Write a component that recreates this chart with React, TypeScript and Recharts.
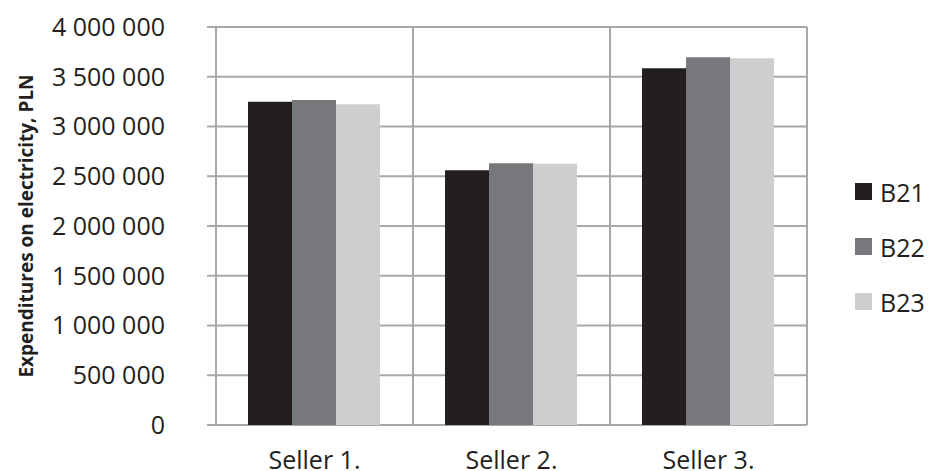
import React from 'react';
import { BarChart, Bar, XAxis, YAxis, CartesianGrid, Legend } from 'recharts';

const sellers = ['Seller 1.', 'Seller 2.', 'Seller 3.'];
const b21 = [3250000, 2560000, 3585000];
const b22 = [3266000, 2630000, 3695000];
const b23 = [3223000, 2625000, 3685000];
const yTicks = [0, 500000, 1000000, 1500000, 2000000, 2500000, 3000000, 3500000, 4000000];
const boundaryTicks = [0, 1, 2, 3];

const SERIES = [
  { key: 'B21', values: b21, color: '#231f20' },
  { key: 'B22', values: b22, color: '#77787b' },
  { key: 'B23', values: b23, color: '#cdced0' },
];

const GRID = '#a6a8ab';
const FONT = '"Open Sans", "Noto Sans", sans-serif';

const data = sellers.map((name, i) => {
  const row: Record<string, string | number> = { name };
  SERIES.forEach(s => { row[s.key] = s.values[i]; });
  return row;
});

const formatPln = (v: number) => String(v).replace(/\B(?=(\d{3})+(?!\d))/g, ' ');

function LegendBox({ payload }: any) {
  return (
    <div style={{ fontFamily: FONT }}>
      {(payload || []).map((p: any) => (
        <div key={p.value} style={{ display: 'flex', alignItems: 'center', height: 55 }}>
          <div style={{ width: 17, height: 17, background: p.color, marginRight: 8 }} />
          <span style={{ fontSize: 25, color: '#231f20' }}>{p.value}</span>
        </div>
      ))}
    </div>
  );
}

export default function App() {
  return (
    <div style={{ position: 'absolute', left: 0, top: 0, background: '#fff' }}>
      <BarChart
        width={928}
        height={471}
        data={data}
        margin={{ top: 27, right: 48, bottom: 0, left: 116 }}
        barCategoryGap={32}
        barGap={0}
      >
        <CartesianGrid xAxisId="num" stroke={GRID} strokeWidth={2} />
        <XAxis
          xAxisId="num"
          dataKey="boundary"
          type="number"
          domain={[0, 3]}
          ticks={boundaryTicks}
          allowDataOverflow
          height={0}
          tickSize={8}
          stroke={GRID}
          strokeWidth={2}
          tickFormatter={() => ''}
        />
        <XAxis
          xAxisId="cat"
          dataKey="name"
          height={46}
          axisLine={false}
          tickLine={false}
          tickSize={0}
          tickMargin={26}
          tick={{ fill: '#231f20', fontSize: 25, fontFamily: FONT }}
        />
        <YAxis
          width={100}
          domain={[0, 4000000]}
          ticks={yTicks}
          tickSize={9}
          tickMargin={42}
          stroke={GRID}
          strokeWidth={2}
          tickFormatter={formatPln}
          tick={{ fill: '#231f20', fontSize: 25, fontFamily: FONT }}
          label={{
            value: 'Expenditures on electricity, PLN',
            angle: -90,
            position: 'insideLeft',
            offset: -90,
            style: { fill: '#231f20', fontSize: 19, fontWeight: 700, fontFamily: FONT, textAnchor: 'middle' },
          }}
        />
        <Legend
          layout="vertical"
          align="right"
          verticalAlign="top"
          content={<LegendBox />}
          wrapperStyle={{ left: 855, top: 164, width: 73 }}
        />
        {SERIES.map(s => (
          <Bar key={s.key} dataKey={s.key} xAxisId="cat" fill={s.color} isAnimationActive={false} />
        ))}
      </BarChart>
    </div>
  );
}
